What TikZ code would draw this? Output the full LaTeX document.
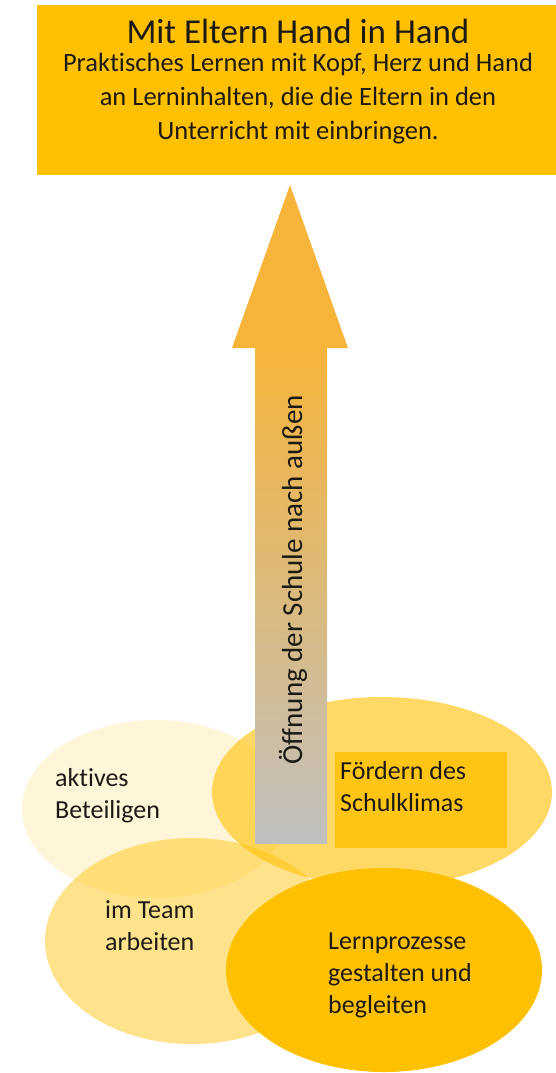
\documentclass[tikz,border=0pt]{standalone}
\usepackage{fontspec}
\setmainfont{Carlito}[Ligatures=NoCommon]
\usetikzlibrary{shapes.geometric}
\definecolor{gold}{HTML}{FFC000}
\definecolor{arrowtop}{HTML}{F6B43A}
\definecolor{arrowbot}{HTML}{C0C0C0}
\definecolor{ink}{HTML}{1C1A14}

\begin{document}
\begin{tikzpicture}[x=1pt,y=-1pt]
        \tikzset{blob/.style = {shape=ellipse,inner sep=0pt,fill=gold,draw=none},
          words/.style = {align=left,anchor=base west,inner sep=0pt,text=ink,
            font=\fontsize{26}{32}\selectfont}};
        \useasboundingbox (0,0) rectangle (556,1073);
        % Ziel oben
        \node[fill=gold,minimum width=519pt,minimum height=170pt,inner sep=0pt,
          anchor=north west] (goal) at (37,5) {};
        \node[text=ink,font=\fontsize{35}{40}\selectfont] (title) at (298,31) {Mit Eltern Hand in Hand};
        \node[text=ink,align=center,font=\fontsize{26.5}{34}\selectfont] (sub) at (298,99)
          {Praktisches Lernen mit Kopf, Herz und Hand\\an Lerninhalten, die die Eltern in den\\Unterricht mit einbringen.};
        % Ellipsen
        \node[blob,fill opacity=0.15,minimum width=268pt,minimum height=178pt] (aktiv) at (156,809) {};
        \node[blob,fill opacity=0.6,minimum width=340pt,minimum height=190pt] (klima) at (382,792) {};
        \node[fill=gold!92!white,minimum width=172pt,minimum height=96pt,inner sep=0pt] (klimabox) at (421,800) {};
        % Pfeil
        \fill[arrowtop] (290,185) -- (348,348) -- (232,348) -- cycle;
        \shade[top color=arrowtop,bottom color=arrowbot] (255,347) rectangle (327,843);
        \node[rotate=90,text=ink,font=\fontsize{29}{32}\selectfont] (way) at (293,580) {Öffnung der Schule nach außen};
        \node[blob,fill opacity=0.45,minimum width=294pt,minimum height=206pt] (team) at (192,941) {};
        \node[blob,minimum width=316pt,minimum height=204pt] (lern) at (384,970) {};
        % Texte
        \node[words] (taktiv) at (55,818) {aktives\\Beteiligen};
        \node[words] (tklima) at (340,811) {Fördern des\\Schulklimas};
        \node[words] (tteam) at (105,950) {im Team\\arbeiten};
        \node[words] (tlern) at (328,1013) {Lernprozesse\\gestalten und\\begleiten};
\end{tikzpicture}
\end{document}
